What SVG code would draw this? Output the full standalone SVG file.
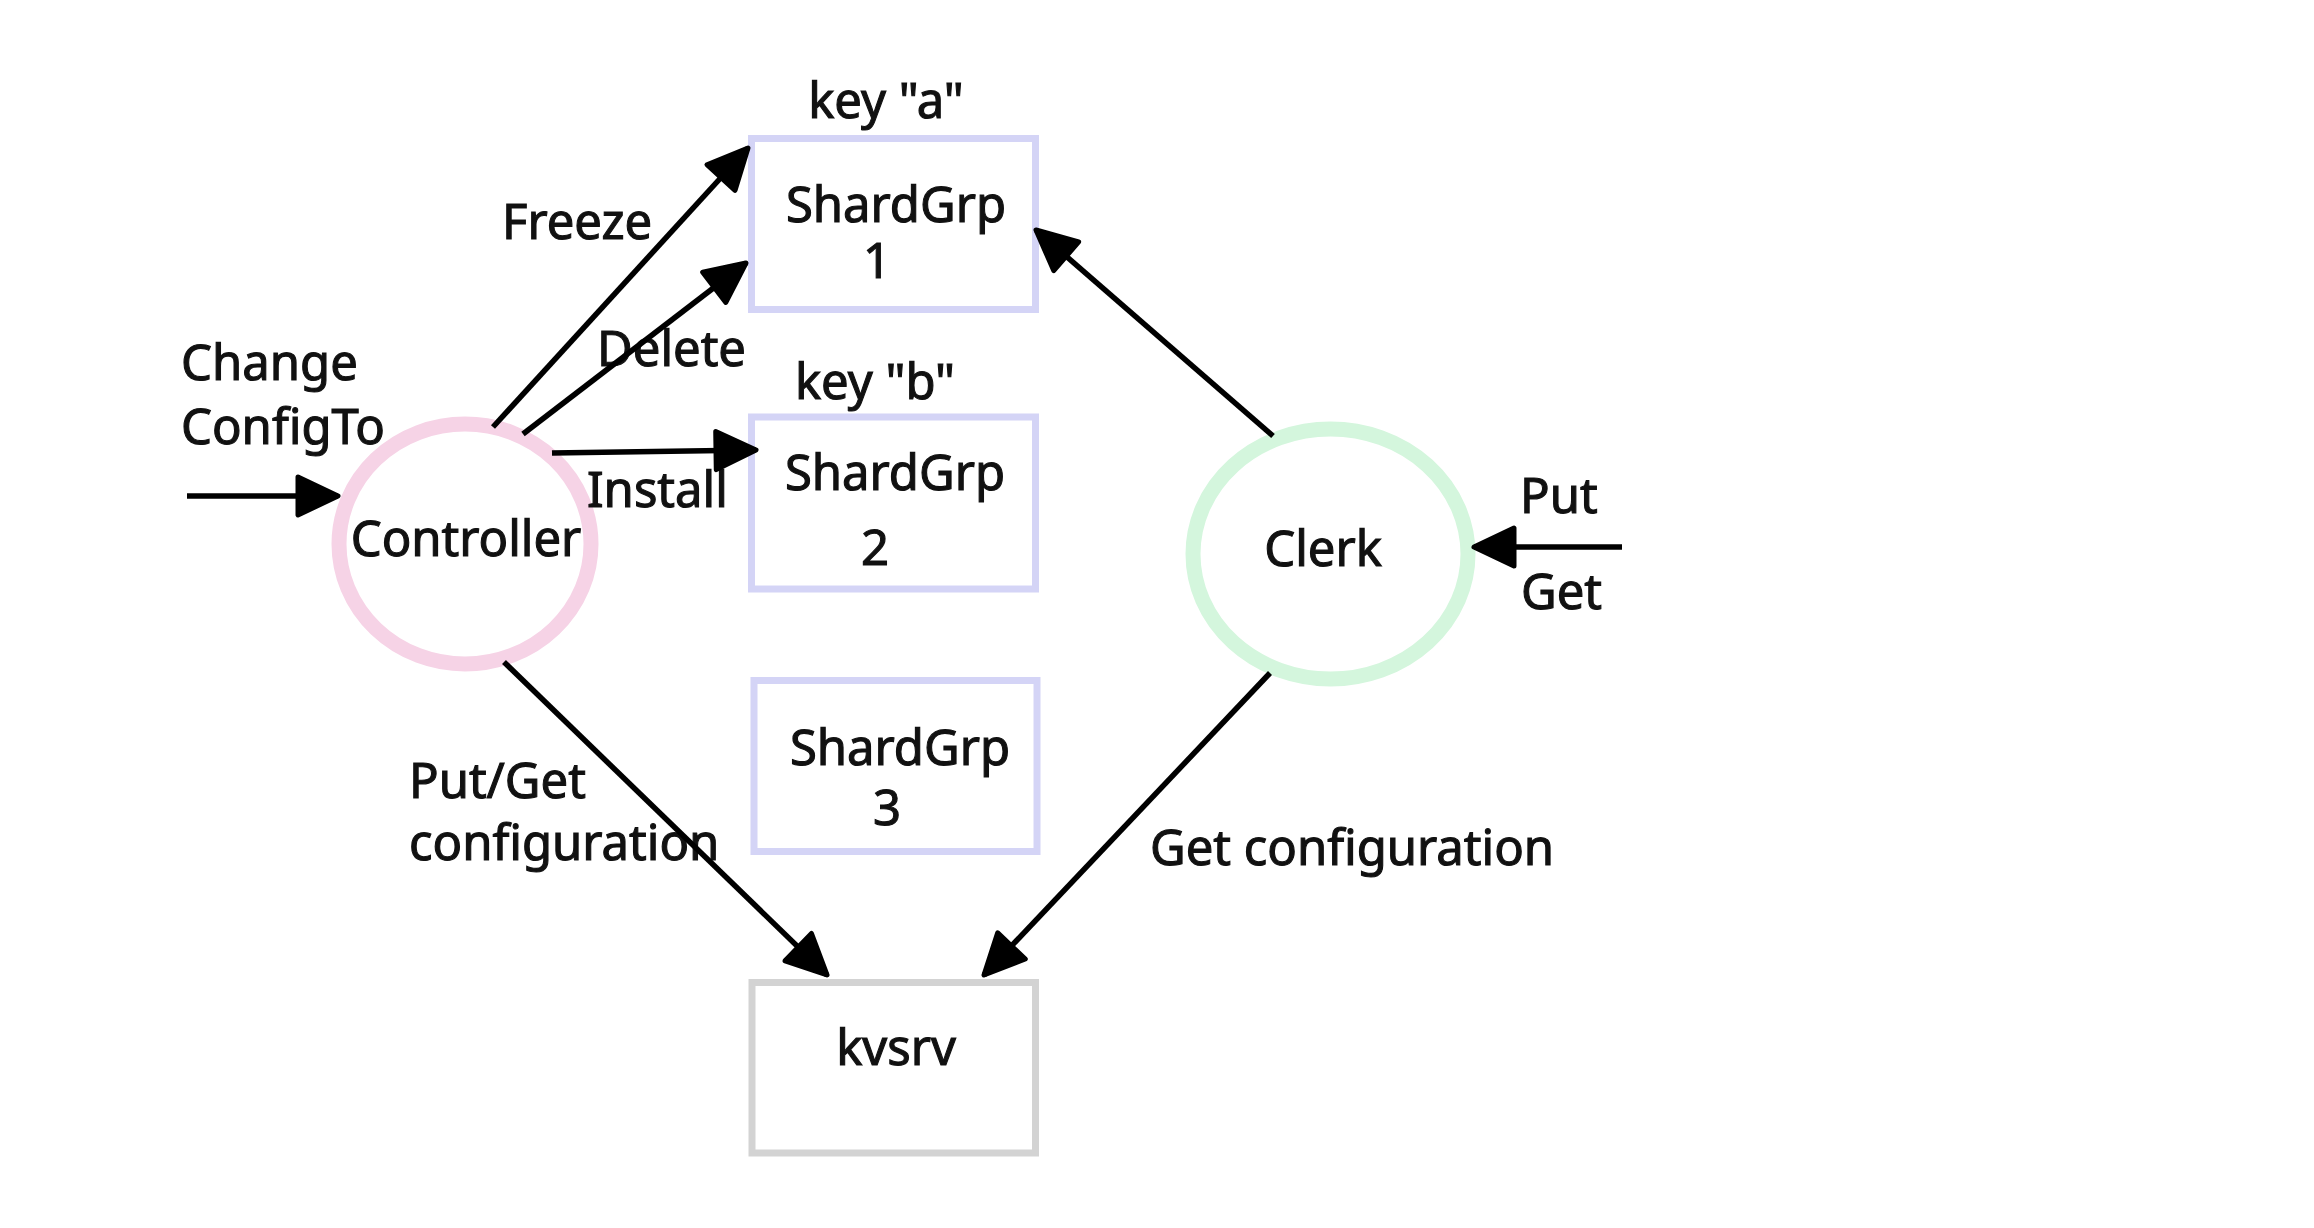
<svg xmlns="http://www.w3.org/2000/svg" width="2314" height="1228" viewBox="0 0 2314 1228">
<style>
text{font-family:"Noto Sans","Open Sans","DejaVu Sans",sans-serif;font-size:49px;fill:#111;stroke:#111;stroke-width:1.1px}
.c{text-anchor:middle}
.box{fill:#fff;stroke:#d4d4f6;stroke-width:7}
.kv{fill:#fff;stroke:#d3d3d3;stroke-width:7}
.edge{stroke:#000;stroke-width:5.5;fill:none;marker-end:url(#ah)}
</style>
<defs>
<marker id="ah" markerUnits="userSpaceOnUse" viewBox="0 0 48 46" refX="44" refY="23" markerWidth="48" markerHeight="46" orient="auto">
<path d="M4,4 L44,23 L4,42 Z" fill="#000" stroke="#000" stroke-width="5" stroke-linejoin="round"/>
</marker>
</defs>
<rect width="2314" height="1228" fill="#fff"/>
<g id="sg1"><rect class="box" x="751.5" y="138.5" width="284" height="171"/><text class="c" x="896" y="222">ShardGrp</text><text class="c" x="877" y="278">1</text></g>
<g id="sg2"><rect class="box" x="751.5" y="417" width="284" height="172"/><text class="c" x="895" y="490">ShardGrp</text><text class="c" x="875" y="565">2</text></g>
<g id="sg3"><rect class="box" x="754" y="680.5" width="283" height="171"/><text class="c" x="900" y="765">ShardGrp</text><text class="c" x="887" y="825">3</text></g>
<g id="kvsrv"><rect class="kv" x="752" y="982.5" width="283.5" height="170.5"/><text class="c" x="896" y="1065">kvsrv</text></g>
<g id="controller"><ellipse cx="465" cy="544" rx="126" ry="120" fill="#fff" stroke="#f6d3e6" stroke-width="15"/><text class="c" x="466" y="556">Controller</text></g>
<g id="clerk"><ellipse cx="1330.5" cy="554" rx="137.5" ry="125" fill="#fff" stroke="#d4f6dd" stroke-width="15"/><text class="c" x="1323" y="566">Clerk</text></g>
<g id="labels">
<text class="c" x="886" y="118">key "a"</text>
<text class="c" x="875" y="399">key "b"</text>
<text x="181" y="380">Change</text>
<text x="181" y="444">ConfigTo</text>
<text x="502" y="239">Freeze</text>
<text x="597" y="366">Delete</text>
<text x="587" y="507">Install</text>
<text x="1520" y="513">Put</text>
<text x="1521" y="609">Get</text>
<text x="409" y="798">Put/Get</text>
<text x="409" y="860">configuration</text>
<text x="1150" y="865">Get configuration</text>
</g>
<g id="connectors">
<line class="edge" x1="187" y1="496" x2="338" y2="496"/>
<line class="edge" x1="493" y1="427" x2="748" y2="148"/>
<line class="edge" x1="523" y1="434" x2="746" y2="263"/>
<line class="edge" x1="552" y1="453" x2="756" y2="450"/>
<line class="edge" x1="504" y1="662" x2="827" y2="975"/>
<line class="edge" x1="1273" y1="436" x2="1036" y2="230"/>
<line class="edge" x1="1270" y1="673" x2="984" y2="975"/>
<line class="edge" x1="1622" y1="547" x2="1474" y2="547"/>
</g>
</svg>
